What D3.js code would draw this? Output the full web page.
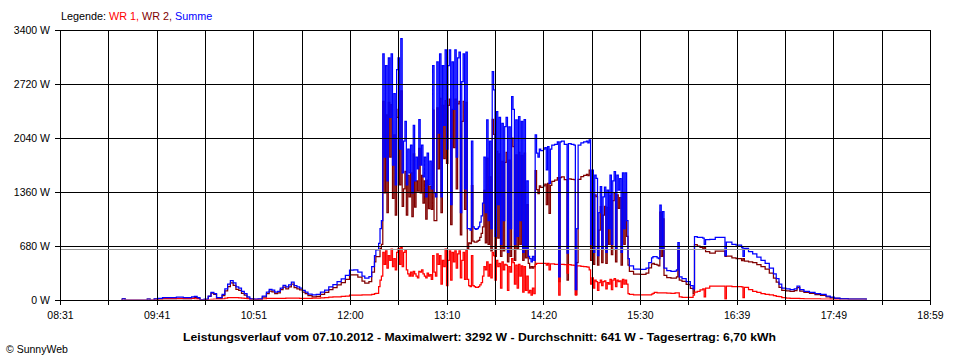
<!DOCTYPE html>
<html><head><meta charset="utf-8">
<script src="https://cdn.jsdelivr.net/npm/d3@7"></script>
<style>
html,body{margin:0;padding:0;background:#fff;}
svg{display:block;font-family:"Liberation Sans",Arial,sans-serif;}
</style></head><body>
<svg id="chart" width="960" height="360"></svg>
<script>
// ---------- DATA ----------
const xTickLabels = ["08:31","09:41","10:51","12:00","13:10","14:20","15:30","16:39","17:49","18:59"];
const yTicks = [0, 680, 1360, 2040, 2720, 3400];
const seriesNames = ["WR 1", "WR 2", "Summe"];
const seriesColors = ["#ff0000", "#800000", "#0000ff"];
const dateLabel = "07.10.2012";
const maxWert = 3292;
const durchschnitt = 641;
const tagesertrag = "6,70";

const times = [
 "09:15","09:16","09:18","09:33","09:34","09:36","09:39","09:42","09:45","09:50","09:55","10:00","10:03","10:06","10:08","10:10","10:12","10:15","10:18","10:20","10:22","10:24","10:26","10:28","10:30","10:32","10:34","10:36","10:38","10:40","10:42","10:44","10:46","10:48",
 "10:51","10:54","10:57","11:00","11:02","11:04","11:06","11:08","11:10","11:12","11:14","11:16","11:18","11:20","11:22","11:24","11:26","11:28","11:30","11:33","11:36","11:39","11:42","11:45","11:48","11:51","11:54","11:57","12:00","12:03","12:06","12:09","12:11","12:14","12:16","12:18","12:19","12:21","12:22","12:23",
 "12:24","12:25","12:26","12:27","12:28","12:29","12:30","12:31","12:32","12:33","12:34","12:35","12:36","12:37","12:38",
 "12:39","12:40","12:41","12:42","12:43","12:44","12:45","12:46","12:47","12:48","12:49","12:50","12:51","12:52","12:53","12:54","12:55","12:56","12:57","12:58","12:59","13:00","13:01",
 "13:02","13:03","13:04","13:05","13:06","13:07","13:08","13:09","13:10","13:11","13:12","13:13","13:14","13:15","13:16","13:17","13:18","13:19","13:20","13:21","13:22","13:23","13:24","13:25",
 "13:26","13:27","13:28","13:29","13:30","13:31","13:32","13:33","13:34","13:35","13:36",
 "13:37","13:38","13:39","13:40","13:41","13:42","13:43","13:44","13:45","13:46","13:47","13:48","13:49","13:50","13:51","13:52","13:53","13:54","13:55","13:56","13:57","13:58","13:59","14:00","14:01","14:02","14:03","14:04","14:05","14:06","14:07","14:08","14:09",
 "14:10","14:11","14:12","14:13","14:14",
 "14:15","14:16","14:17","14:18","14:20","14:21","14:22","14:23","14:24","14:25","14:26","14:28","14:30","14:31","14:32","14:33","14:35","14:37","14:38","14:40","14:42","14:43","14:44","14:45","14:47","14:49","14:51","14:52",
 "14:53","14:54","14:55","14:56","14:57","14:58","14:59","15:00","15:01","15:02","15:03","15:04","15:05","15:06","15:07","15:08","15:09","15:10","15:11","15:12","15:13","15:14","15:15","15:16","15:17","15:18","15:19","15:20","15:21","15:22",
 "15:25","15:30","15:34","15:36","15:38","15:39","15:40","15:42","15:43","15:44","15:45","15:46","15:47","15:49","15:52","15:55","15:56","15:57","15:58","16:00","16:03","16:06","16:08","16:09","16:11","16:13","16:15","16:16","16:17","16:20","16:24","16:28","16:31","16:32","16:36","16:39","16:43","16:44","16:45","16:48","16:51","16:54","16:57","17:00","17:03","17:06","17:08","17:10","17:12","17:15","17:18","17:21","17:23","17:25","17:28","17:32","17:36","17:40","17:44","17:47","17:50","17:54","18:00","18:05","18:10","18:13"
];

// WR 1 (W)
const wr1 = [
 0,0,0,0,0,0,5,10,20,20,22,20,20,20,15,10,3,5,5,8,10,10,10,15,25,30,30,30,30,28,25,20,15,10,
 8,10,15,20,22,22,20,20,20,22,25,25,25,25,25,22,20,20,20,25,25,28,30,35,40,40,45,50,60,62,62,63,63,63,70,80,85,167,250,300,
 600,450,620,400,560,500,640,420,520,380,600,650,450,660,420,
 600,630,380,330,300,350,300,360,330,300,280,360,350,380,330,300,280,340,300,320,260,560,350,
 300,580,450,560,200,500,420,640,180,500,620,250,600,480,620,400,580,620,280,500,600,260,630,260,
 180,170,560,180,170,160,160,170,190,220,300,
 420,380,480,300,450,280,600,560,250,500,420,460,150,480,380,450,440,120,420,350,520,470,200,440,150,450,300,430,100,420,120,300,90,
 120,60,150,80,450,
 460,460,462,462,462,460,440,460,380,455,455,450,450,60,450,450,445,340,445,440,435,60,430,430,425,420,418,415,
 380,200,280,150,250,230,120,220,250,180,230,240,140,220,200,260,130,250,270,170,250,230,240,160,260,200,250,200,80,70,
 63,63,63,65,75,84,95,90,90,90,90,90,90,88,85,90,90,90,40,34,34,34,60,100,110,126,140,40,150,176,176,176,10,176,170,170,165,30,160,130,110,95,80,70,63,55,45,42,30,25,21,21,20,18,15,13,13,12,10,8,5,0,0,0,0,0
];

// WR 2 (W)
const wr2 = [
 0,15,0,0,10,0,10,10,10,10,13,10,10,20,30,20,2,5,45,87,70,20,20,55,115,170,215,185,135,122,85,60,25,5,
 4,5,35,80,113,103,80,90,130,163,140,165,200,155,140,128,100,80,55,40,45,72,95,130,155,190,220,260,315,316,288,237,212,230,350,480,545,547,650,700,
 2500,1350,2330,1100,2490,1800,2460,1280,2080,1070,2300,2400,1450,2632,1180,
 1400,1620,1070,1570,1300,1600,1050,1840,1170,1500,1370,1910,1350,1570,1220,1500,1020,1510,1150,1430,1140,2390,1000,
 1000,2420,1650,2540,1100,2450,1780,2510,1720,2450,2530,950,2400,1920,2530,1400,2470,2500,820,2250,2500,1140,2490,640,
 720,710,1440,740,730,730,740,750,790,840,920,
 1380,720,1787,700,1550,620,2275,2085,550,1871,780,1840,550,1745,620,1733,1860,480,1760,550,2040,1930,500,1827,650,1858,700,1820,500,1850,530,1200,460,
 400,420,400,420,1628,
 1390,1340,1438,1418,1438,1460,1200,1470,1090,1445,1495,1510,1540,230,1540,1550,1515,250,1525,1520,1515,70,470,1520,1555,1570,1582,1565,
 1635,500,1357,450,1324,1302,440,880,1177,470,1070,1180,460,1165,700,1314,570,1250,1346,480,1324,1155,1290,440,1340,700,1350,800,440,360,
 327,322,337,405,455,461,450,440,430,1106,550,1022,310,282,275,275,290,632,250,236,196,146,80,697,680,664,640,660,610,589,614,614,550,554,530,520,495,520,490,480,470,445,420,390,337,275,225,158,120,115,109,119,156,112,95,82,67,58,40,27,20,15,12,12,10,0
];

// Summe (W)
const summe = [
 0,15,0,0,10,0,15,20,30,30,35,30,30,40,45,30,5,10,50,95,80,30,30,70,140,200,245,215,165,150,110,80,40,15,
 12,15,50,100,135,125,100,110,150,185,165,190,225,180,165,150,120,100,75,65,70,100,125,165,195,230,265,310,375,378,350,300,275,293,420,560,630,714,900,1000,
 3100,1800,2950,1500,3050,2300,3100,1700,2600,1450,2900,3050,1900,3292,1600,
 2000,2250,1450,1900,1600,1950,1350,2200,1500,1800,1650,2270,1700,1950,1550,1800,1300,1850,1450,1750,1400,2950,1350,
 1300,3000,2100,3100,1300,2950,2200,3150,1900,2950,3150,1200,3000,2400,3150,1800,3050,3120,1100,2750,3100,1400,3120,900,
 900,880,2000,920,900,890,900,920,980,1060,1220,
 1800,1100,2267,1000,2000,900,2875,2645,800,2371,1200,2300,700,2225,1000,2183,2300,600,2180,900,2560,2400,700,2267,800,2308,1000,2250,600,2270,650,1500,550,
 520,480,550,500,2078,
 1850,1800,1900,1880,1900,1920,1640,1930,1470,1900,1950,1960,1990,290,1990,2000,1960,590,1970,1960,1950,130,900,1950,1980,1990,2000,1980,
 2015,700,1637,600,1574,1532,560,1100,1427,650,1300,1420,600,1385,900,1574,700,1500,1616,650,1574,1385,1530,600,1600,900,1600,1000,520,430,
 390,385,400,470,530,545,545,530,520,1196,640,1112,400,370,360,365,380,722,290,270,230,180,140,797,790,790,780,700,760,765,790,790,560,730,700,690,660,550,650,610,580,540,500,460,400,330,270,200,150,140,130,140,176,130,110,95,80,70,50,35,25,15,12,12,10,0
];

// ---------- CHART ----------
const toMin = s => { const [h, m] = s.split(":").map(Number); return h * 60 + m; };
const svg = d3.select("#chart");
const L = 60, R = 930, T = 30, B = 300;

const t0 = toMin(xTickLabels[0]), t1 = toMin(xTickLabels[xTickLabels.length - 1]);
const x = d3.scaleLinear().domain([t0, t1]).range([L, R]);
const y = d3.scaleLinear().domain([0, yTicks[yTicks.length - 1]]).range([B, T]);
const nGrid = (xTickLabels.length - 1) * 2;
const gridTimes = d3.range(nGrid + 1).map(i => t0 + i * (t1 - t0) / nGrid);

svg.append("rect").attr("width", 960).attr("height", 360).attr("fill", "#fff");

svg.append("clipPath").attr("id", "plotclip")
  .append("rect").attr("x", L).attr("y", T).attr("width", R - L).attr("height", B - T - 0.6);

const n = Math.min(times.length, wr1.length, wr2.length, summe.length);
const tm = times.slice(0, n).map(toMin);
const series = [wr1, wr2, summe].map(arr => tm.map((t, i) => ({ t, v: arr[i] })));

const line = d3.line().x(d => x(d.t)).y(d => y(d.v)).curve(d3.curveStepAfter);
const dataG = svg.append("g").attr("clip-path", "url(#plotclip)");
[1, 0, 2].forEach(k => {
  dataG.append("path").datum(series[k])
    .attr("fill", "none").attr("stroke", seriesColors[k])
    .attr("stroke-width", 1.25).attr("stroke-linejoin", "miter")
    .attr("d", line);
});

// grid on top
const grid = svg.append("g").attr("stroke", "#000").attr("stroke-width", 1).attr("shape-rendering", "crispEdges");
gridTimes.forEach(t => {
  const px = Math.round(x(t)) + 0.5;
  grid.append("line").attr("x1", px).attr("x2", px).attr("y1", T).attr("y2", B);
});
yTicks.forEach(v => {
  const py = Math.round(y(v)) + 0.5;
  grid.append("line").attr("x1", L).attr("x2", R + 1).attr("y1", py).attr("y2", py);
});
// average line
const pyAvg = Math.round(y(durchschnitt)) + 0.5;
svg.append("line").attr("x1", L + 1).attr("x2", R).attr("y1", pyAvg).attr("y2", pyAvg)
  .attr("stroke", "#999").attr("stroke-width", 1).attr("shape-rendering", "crispEdges");

// axes
const xAxis = d3.axisBottom(x).tickValues(gridTimes).tickSize(5).tickPadding(7)
  .tickFormat((d, i) => i % 2 === 0 ? xTickLabels[i / 2] : "");
const gx = svg.append("g").attr("transform", `translate(0,${B})`).call(xAxis);
const yAxis = d3.axisLeft(y).tickValues(yTicks).tickSize(5).tickPadding(5).tickFormat(d => d + " W");
const gy = svg.append("g").attr("transform", `translate(${L},0)`).call(yAxis);
[gx, gy].forEach(g => {
  g.select(".domain").remove();
  g.selectAll("line").attr("stroke", "#000").attr("shape-rendering", "crispEdges");
  g.selectAll("text").attr("fill", "#000").style("font-size", "10.5px")
    .style("font-family", '"Liberation Sans", Arial, sans-serif');
});

// legend
const leg = svg.append("text").attr("x", 61).attr("y", 20).style("font-size", "10.8px");
leg.append("tspan").attr("fill", "#000").text("Legende: ");
seriesNames.forEach((s, i) => {
  leg.append("tspan").attr("fill", seriesColors[i]).text(s + (i < seriesNames.length - 1 ? ", " : ""));
});

// title
svg.append("text").attr("x", 183).attr("y", 341)
  .attr("textLength", 593).attr("lengthAdjust", "spacingAndGlyphs")
  .style("font-size", "11.5px").style("font-weight", "bold").attr("fill", "#000")
  .text(`Leistungsverlauf vom ${dateLabel} - Maximalwert: ${maxWert} W - Durchschnitt: ${durchschnitt} W - Tagesertrag: ${tagesertrag} kWh`);

// copyright
svg.append("text").attr("x", 6).attr("y", 353).style("font-size", "10.5px").attr("fill", "#000")
  .text("\u00A9 SunnyWeb");
</script>
</body></html>
